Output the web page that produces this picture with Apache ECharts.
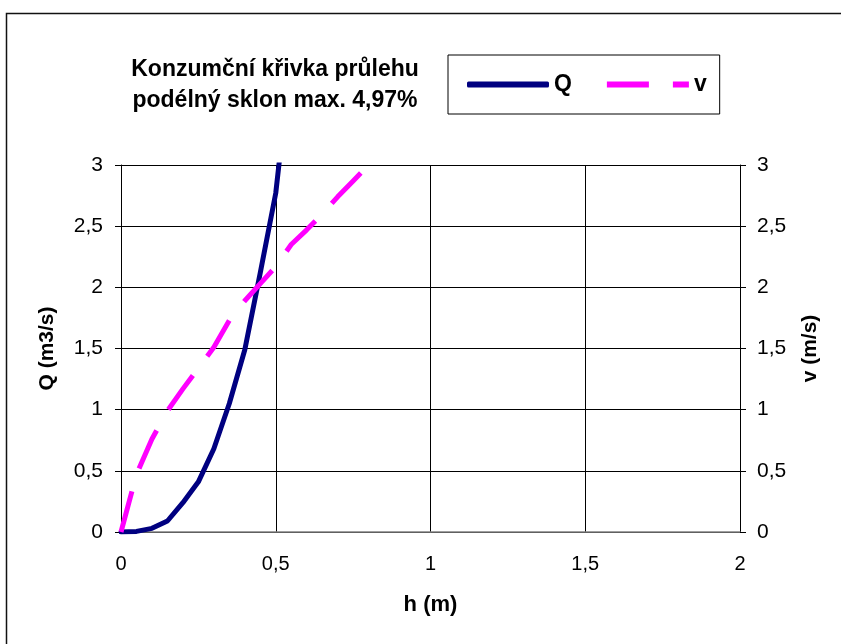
<!DOCTYPE html>
<html>
<head>
<meta charset="utf-8">
<script src="https://cdn.jsdelivr.net/npm/echarts@6/dist/echarts.min.js"></script>
<style>
  html, body { margin: 0; padding: 0; background: #fff; }
  #chart { width: 841px; height: 644px; }
</style>
</head>
<body>
<div id="chart"></div>
<script>
// Water depth h (m) and the rating-curve results
const hQ = [0, 0.05, 0.1, 0.15, 0.2, 0.25, 0.3, 0.35, 0.4, 0.45, 0.5, 0.55];
const Q  = [0, 0.005, 0.03, 0.09, 0.24, 0.41, 0.68, 1.05, 1.49, 2.12, 2.77, 3.9];
const hV = [0, 0.05, 0.1, 0.15, 0.2, 0.25, 0.3, 0.35, 0.4, 0.45, 0.5, 0.55, 0.6, 0.65, 0.7, 0.75, 0.8];
const V  = [0, 0.47, 0.76, 0.99, 1.17, 1.34, 1.51, 1.73, 1.89, 2.03, 2.17, 2.35, 2.47, 2.60, 2.74, 2.87, 3.0];

const titleLines = ['Konzumční křivka průlehu', 'podélný sklon max. 4,97%'];
const xTicks = [0, 0.5, 1, 1.5, 2];
const yTicks = [0, 0.5, 1, 1.5, 2, 2.5, 3];

const FONT = '"Liberation Sans", Arial, sans-serif';
const fmt = v => String(v).replace('.', ',');

const chart = echarts.init(document.getElementById('chart'), null, { renderer: 'canvas' });

const yAxisBase = {
  type: 'value',
  min: yTicks[0],
  max: yTicks[yTicks.length - 1],
  interval: 0.5,
  axisLine: { show: true, lineStyle: { color: '#000', width: 1 } },
  axisTick: { show: true, length: 6, lineStyle: { color: '#000' } },
  axisLabel: { fontFamily: FONT, fontSize: 21, color: '#000', formatter: fmt },
  nameLocation: 'middle',
  nameRotate: 90,
  nameTextStyle: { fontFamily: FONT, fontSize: 21, fontWeight: 'bold', color: '#000' }
};

chart.setOption({
  animation: false,
  backgroundColor: '#fff',
  title: {
    text: titleLines.join('\n'),
    left: 275,
    top: 54,
    padding: 0,
    textAlign: 'center',
    textStyle: { fontFamily: FONT, fontSize: 23, fontWeight: 'bold', color: '#000', lineHeight: 31 }
  },
  legend: {
    left: 448,
    top: 55,
    orient: 'horizontal',
    padding: [18, 13, 18, 19],
    borderColor: '#000',
    borderWidth: 1,
    itemWidth: 82,
    itemHeight: 6,
    itemGap: 35,
    textStyle: { fontFamily: FONT, fontSize: 23, fontWeight: 'bold', color: '#000', lineHeight: 23 },
    data: [
      { name: 'Q', icon: 'roundRect' },
      { name: 'v', icon: 'path://M0,0H42V6H0Z M66,0H82V6H66Z' }
    ]
  },
  grid: { left: 121, right: 101, top: 165, bottom: 112, containLabel: false },
  xAxis: {
    type: 'value',
    min: xTicks[0],
    max: xTicks[xTicks.length - 1],
    interval: 0.5,
    axisLine: { show: true, lineStyle: { color: '#808080', width: 1.5 } },
    axisTick: { show: false },
    axisLabel: { fontFamily: FONT, fontSize: 20, color: '#000', formatter: fmt, margin: 22 },
    splitLine: { show: true, lineStyle: { color: '#000', width: 1 } },
    name: 'h (m)',
    nameLocation: 'middle',
    nameGap: 62,
    nameTextStyle: { fontFamily: FONT, fontSize: 22, fontWeight: 'bold', color: '#000' }
  },
  yAxis: [
    Object.assign({}, yAxisBase, {
      position: 'left',
      name: 'Q (m3/s)',
      nameGap: 63,
      axisLabel: Object.assign({}, yAxisBase.axisLabel, { margin: 18 }),
      splitLine: { show: true, lineStyle: { color: '#000', width: 1 } }
    }),
    Object.assign({}, yAxisBase, {
      position: 'right',
      name: 'v (m/s)',
      nameGap: 60,
      axisLabel: Object.assign({}, yAxisBase.axisLabel, { margin: 17 }),
      splitLine: { show: false }
    })
  ],
  series: [
    {
      name: 'Q',
      type: 'line',
      yAxisIndex: 0,
      data: hQ.map((h, i) => [h, Q[i]]),
      symbol: 'none',
      clip: true,
      lineStyle: { color: '#000080', width: 5, cap: 'round', join: 'round' },
      itemStyle: { color: '#000080' },
      z: 3
    },
    {
      name: 'v',
      type: 'line',
      yAxisIndex: 1,
      data: hV.map((h, i) => [h, V[i]]),
      symbol: 'none',
      clip: true,
      lineStyle: { color: '#FF00FF', width: 5, type: [42, 24], cap: 'butt' },
      itemStyle: { color: '#FF00FF' },
      z: 4
    }
  ],
  graphic: [
    {
      type: 'rect',
      shape: { x: 6.5, y: 13.5, width: 900, height: 700 },
      style: { fill: 'none', stroke: '#111', lineWidth: 1.5 },
      silent: true
    }
  ]
});
</script>
</body>
</html>
